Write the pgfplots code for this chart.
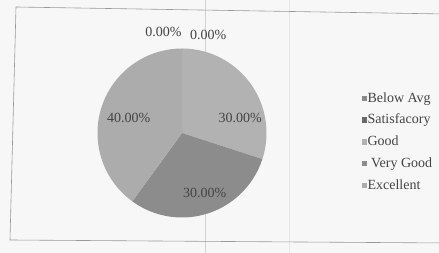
\documentclass[border=0pt]{standalone}
\usepackage{pgfplots}
\usepackage{pgfplotstable}
\pgfplotsset{compat=1.18}
\usepackage{fontspec}
\setmainfont{Liberation Serif}
\definecolor{cbg}{HTML}{F7F7F7}
\definecolor{cbelow}{HTML}{8A8A8A}
\definecolor{csat}{HTML}{6A6A6A}
\definecolor{cgood}{HTML}{B2B2B2}
\definecolor{cvgood}{HTML}{8C8C8C}
\definecolor{cexc}{HTML}{ACACAC}
\definecolor{ctext}{HTML}{444444}

\pgfplotstableread[col sep=comma]{
label,value,color
Below Avg,0,cbelow
Satisfacory,0,csat
Good,30,cgood
Very Good,30,cvgood
Excellent,40,cexc
}\piedata

\begin{document}
\begin{tikzpicture}[x=1pt,y=1pt]
\path[use as bounding box, fill=cbg] (0,0) rectangle (439,253);
\draw[gray!35, line width=0.7pt] (205,0) -- (205,253);
\draw[gray!20, line width=0.5pt] (289,0) -- (289,253);
\draw[gray!80, line width=0.6pt] (445,239) -- (16,246) -- (10,13) -- (445,10);
\begin{axis}[
  at={(97.5pt,35.5pt)}, anchor=south west,
  scale only axis, width=169pt, height=169pt,
  xmin=-1, xmax=1, ymin=-1, ymax=1,
  hide axis, clip=false,
  legend style={draw=none, fill=none, at={(1.545,0.45)}, anchor=west,
    font=\fontsize{14}{16}\selectfont, text=ctext,
    nodes={inner sep=1pt}, row sep=8.5pt},
  legend cell align=left,
]
\def\cumangle{90}
\pgfplotsforeachungrouped \i in {0,...,4}{%
  \pgfplotstablegetelem{\i}{value}\of\piedata \let\v\pgfplotsretval
  \pgfplotstablegetelem{\i}{color}\of\piedata \let\c\pgfplotsretval
  \pgfmathsetmacro\endangle{\cumangle-3.6*\v}%
  \edef\temp{\noexpand\fill[\c] (axis cs:0,0) -- (axis cs:{cos(\cumangle)},{sin(\cumangle)}) arc[start angle=\cumangle, end angle=\endangle, radius=84.5pt] -- cycle;}%
  \temp
  \let\cumangle\endangle
}
\addlegendimage{legend image code/.code={\fill[cbelow] (2pt,-2.2pt) rectangle (6.4pt,2.2pt);}}
\addlegendentry{Below Avg}
\addlegendimage{legend image code/.code={\fill[csat] (2pt,-2.2pt) rectangle (6.4pt,2.2pt);}}
\addlegendentry{Satisfacory}
\addlegendimage{legend image code/.code={\fill[cgood] (2pt,-2.2pt) rectangle (6.4pt,2.2pt);}}
\addlegendentry{Good}
\addlegendimage{legend image code/.code={\fill[cvgood] (2pt,-2.2pt) rectangle (6.4pt,2.2pt);}}
\addlegendentry{\ Very Good}
\addlegendimage{legend image code/.code={\fill[cexc] (2pt,-2.2pt) rectangle (6.4pt,2.2pt);}}
\addlegendentry{Excellent}
\begin{scope}[every node/.style={font=\fontsize{14}{16}\selectfont, text=ctext}]
\node at (axis cs:-0.22,1.195) {0.00\%};
\node at (axis cs:0.31,1.16) {0.00\%};
\node at (axis cs:0.69,0.18) {30.00\%};
\node at (axis cs:-0.63,0.18) {40.00\%};
\node at (axis cs:0.27,-0.71) {30.00\%};
\end{scope}
\end{axis}
\end{tikzpicture}
\end{document}
